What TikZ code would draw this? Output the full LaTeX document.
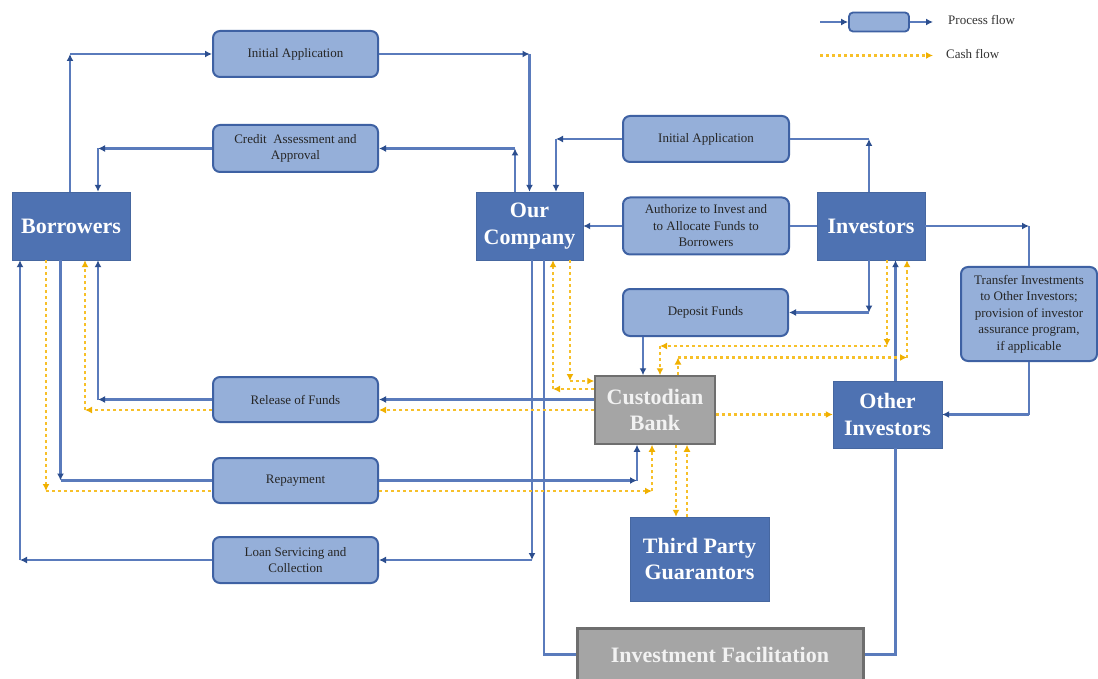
\documentclass[tikz,border=0pt]{standalone}
\usepackage{fontspec}
\setmainfont{Liberation Serif}
\usepackage{tikz}
\usetikzlibrary{arrows.meta}

\definecolor{partyblue}{HTML}{4E72B2}
\definecolor{procblue}{HTML}{95AFD9}
\definecolor{procedge}{HTML}{3E61A3}
\definecolor{flowline}{HTML}{5A7BBC}
\definecolor{flowtip}{HTML}{2C4E8E}
\definecolor{bankgray}{HTML}{A5A5A5}
\definecolor{bankedge}{HTML}{6E6E6E}
\definecolor{cashyellow}{HTML}{F7C02A}
\definecolor{cashtip}{HTML}{F0B000}

\tikzset{
	party/.style={draw=partyblue!90!black, fill=partyblue, text=white, align=center, inner sep=0pt,
		font=\fontsize{22}{26.5}\selectfont\bfseries},
	bank/.style={party, draw=bankedge, fill=bankgray, line width=1.5pt, text=white!95!black},
	proc/.style={draw=procedge, fill=procblue, line width=2pt, rounded corners=7pt, align=center,
		inner sep=0pt, minimum width=165pt, text=black!85, font=\fontsize{13}{16.5}\selectfont},
	plain/.style={draw=flowline, line width=2.2pt},
	flow/.style={plain, -{Latex[length=7pt,width=7pt,color=flowtip]}},
	cash/.style={draw=cashyellow, line width=2.2pt, dash pattern=on 3pt off 3pt,
		-{Latex[length=7pt,width=7pt,color=cashtip]}},
	legtext/.style={anchor=west, inner sep=0pt, text=black!80, font=\fontsize{13}{16}\selectfont}
}

\begin{document}
\begin{tikzpicture}[x=1pt, y=-1pt]
	\useasboundingbox (0,0) rectangle (1098,679);
	\fill[white] (0,0) rectangle (1098,679);
	\clip (0,0) rectangle (1098,679);

	% parties
	\node[party, minimum width=118pt, minimum height=68pt] (bor) at (71,226) {Borrowers};
	\node[party, minimum width=107pt, minimum height=68pt] (oc) at (529.5,226) {Our\\Company};
	\node[party, minimum width=108pt, minimum height=68pt] (inv) at (871,226) {Investors};
	\node[party, minimum width=109pt, minimum height=67pt] (oi) at (887.5,414.5) {Other\\Investors};
	\node[party, minimum width=139pt, minimum height=84pt] (tpg) at (699.5,559) {Third Party\\Guarantors};
	\node[bank, minimum width=120pt, minimum height=68pt] (cb) at (655,410) {Custodian\\Bank};
	\node[bank, line width=3pt, minimum width=286pt, minimum height=53pt] (if) at (720,654.5) {Investment Facilitation};

	% process steps
	\node[proc, minimum height=46pt] (ia1) at (295.5,54) {Initial Application};
	\node[proc, minimum height=47pt] (ca) at (295.5,148.5) {Credit~ Assessment and\\Approval};
	\node[proc, minimum width=166pt, minimum height=46pt] (ia2) at (706,139) {Initial Application};
	\node[proc, minimum width=166pt, minimum height=57pt] (auth) at (706,226) {Authorize to Invest and\\to Allocate Funds to\\Borrowers};
	\node[proc, minimum height=47pt] (dep) at (705.5,312.5) {Deposit Funds};
	\node[proc, minimum width=136pt, minimum height=94pt] (tr) at (1029,314) {Transfer Investments\\to Other Investors;\\provision of investor\\assurance program,\\if applicable};
	\node[proc, minimum height=45pt] (rf) at (295.5,399.5) {Release of Funds};
	\node[proc, minimum height=45pt] (rep) at (295.5,480.5) {Repayment};
	\node[proc, minimum height=46pt] (ls) at (295.5,560) {Loan Servicing and\\Collection};

	% legend
	\node[proc, line width=1.8pt, rounded corners=4pt, minimum width=60pt, minimum height=19pt] (legbox) at (879,22) {};
	\coordinate (legA) at (820,22);
	\coordinate (legB) at (933,22);
	\coordinate (legC) at (820,55.5);
	\coordinate (legD) at (933,55.5);
	\node[legtext] (legproc) at (948,20) {Process flow};
	\node[legtext] (legcash) at (946,54) {Cash flow};
	\draw[flow] (legA) -- (legbox.west);
	\draw[flow] (legbox.east) -- (legB);
	\draw[cash] (legC) -- (legD);

	% process flow
	\draw[flow] ([xshift=-1pt]bor.north) -- ([xshift=-1pt]bor.north |- ia1.west);
	\draw[flow] ([xshift=-1pt]bor.north |- ia1.west) -- (ia1.west);
	\draw[flow] (ia1.east) -- (ia1.east -| oc.north);
	\draw[flow] (ia1.east -| oc.north) -- (oc.north);

	\draw[flow] ([xshift=-14.5pt]oc.north) -- ([xshift=-14.5pt]oc.north |- ca.east);
	\draw[flow] ([xshift=-14.5pt]oc.north |- ca.east) -- (ca.east);
	\draw[flow] (ca.west) -- ([xshift=27pt]bor.north |- ca.west);
	\draw[flow] ([xshift=27pt]bor.north |- ca.west) -- ([xshift=27pt]bor.north);

	\draw[flow] ([xshift=-2pt]inv.north) -- ([xshift=-2pt]inv.north |- ia2.east);
	\draw[plain] ([xshift=-2pt]inv.north |- ia2.east) -- (ia2.east);
	\draw[flow] (ia2.west) -- ([xshift=26.5pt]oc.north |- ia2.west);
	\draw[flow] ([xshift=26.5pt]oc.north |- ia2.west) -- ([xshift=26.5pt]oc.north);

	\draw[plain] (inv.west) -- (auth.east);
	\draw[flow] (auth.west) -- (oc.east);

	\draw[flow] ([xshift=-2pt]inv.south) -- ([xshift=-2pt]inv.south |- dep.east);
	\draw[flow] ([xshift=-2pt]inv.south |- dep.east) -- (dep.east);
	\draw[flow] ([xshift=-62.5pt]dep.south) -- ([xshift=-62.5pt]dep.south |- cb.north);

	\draw[flow] (inv.east) -- (inv.east -| tr.north);
	\draw[plain] (inv.east -| tr.north) -- (tr.north);
	\draw[plain] (tr.south) -- (tr.south |- oi.east);
	\draw[flow] (tr.south |- oi.east) -- (oi.east);
	\draw[flow] ([xshift=8pt]oi.north) -- ([xshift=8pt]oi.north |- inv.south);

	\draw[flow] (cb.west |- rf.east) -- (rf.east);
	\draw[flow] (rf.west) -- ([xshift=27pt]bor.south |- rf.west);
	\draw[flow] ([xshift=27pt]bor.south |- rf.west) -- ([xshift=27pt]bor.south);

	\draw[flow] ([xshift=-10.5pt]bor.south) -- ([xshift=-10.5pt]bor.south |- rep.west);
	\draw[plain] ([xshift=-10.5pt]bor.south |- rep.west) -- (rep.west);
	\draw[flow] (rep.east) -- ([xshift=-18pt]cb.south |- rep.east);
	\draw[flow] ([xshift=-18pt]cb.south |- rep.east) -- ([xshift=-18pt]cb.south);

	\draw[flow] ([xshift=2.5pt]oc.south) -- ([xshift=2.5pt]oc.south |- ls.east);
	\draw[flow] ([xshift=2.5pt]oc.south |- ls.east) -- (ls.east);
	\draw[flow] (ls.west) -- ([xshift=-51pt]bor.south |- ls.west);
	\draw[flow] ([xshift=-51pt]bor.south |- ls.west) -- ([xshift=-51pt]bor.south);

	\draw[plain] ([xshift=14.5pt]oc.south) |- (if.west);
	\draw[plain] (if.east) -| ([xshift=8pt]oi.south);

	% cash flow
	\draw[cash] ([xshift=40.5pt]oc.south) -- ([xshift=40.5pt,yshift=29pt]oc.south |- cb.west);
	\draw[cash] ([xshift=40.5pt,yshift=29pt]oc.south |- cb.west) -- ([yshift=29pt]cb.west);
	\draw[cash] ([yshift=21pt]cb.west) -- ([xshift=23.5pt,yshift=21pt]oc.south |- cb.west);
	\draw[cash] ([xshift=23.5pt,yshift=21pt]oc.south |- cb.west) -- ([xshift=23.5pt]oc.south);

	\draw[cash] (cb.west) -- (cb.west -| rf.east);
	\draw[cash] (rf.west |- cb.west) -- ([xshift=14pt]bor.south |- cb.west);
	\draw[cash] ([xshift=14pt]bor.south |- cb.west) -- ([xshift=14pt]bor.south);

	\draw[cash] ([xshift=-25pt]bor.south) -- ([xshift=-25pt,yshift=-10.5pt]bor.south |- rep.west);
	\draw[cash, -] ([xshift=-25pt,yshift=-10.5pt]bor.south |- rep.west) -- ([yshift=-10.5pt]rep.west);
	\draw[cash] ([yshift=-10.5pt]rep.east) -- ([xshift=-3pt,yshift=-10.5pt]cb.south |- rep.east);
	\draw[cash] ([xshift=-3pt,yshift=-10.5pt]cb.south |- rep.east) -- ([xshift=-3pt]cb.south);

	\draw[cash] ([xshift=21pt]cb.south) -- ([xshift=21pt]cb.south |- tpg.north);
	\draw[cash] ([xshift=32pt]cb.south |- tpg.north) -- ([xshift=32pt]cb.south);

	\draw[cash] (cb.east |- oi.west) -- (oi.west);

	\draw[cash] ([xshift=16pt]inv.south) -- ([xshift=16pt,yshift=64pt]inv.south |- cb.center);
	\draw[cash] ([xshift=16pt,yshift=64pt]inv.south |- cb.center) -- ([xshift=5pt,yshift=64pt]cb.center);
	\draw[cash] ([xshift=5pt,yshift=64pt]cb.center) -- ([xshift=5pt]cb.north);
	\draw[cash] ([xshift=23pt]cb.north) -- ([xshift=23pt,yshift=52.5pt]cb.center);
	\draw[cash] ([xshift=23pt,yshift=52.5pt]cb.center) -- ([xshift=36pt,yshift=52.5pt]inv.south |- cb.center);
	\draw[cash] ([xshift=36pt,yshift=52.5pt]inv.south |- cb.center) -- ([xshift=36pt]inv.south);
\end{tikzpicture}
\end{document}
